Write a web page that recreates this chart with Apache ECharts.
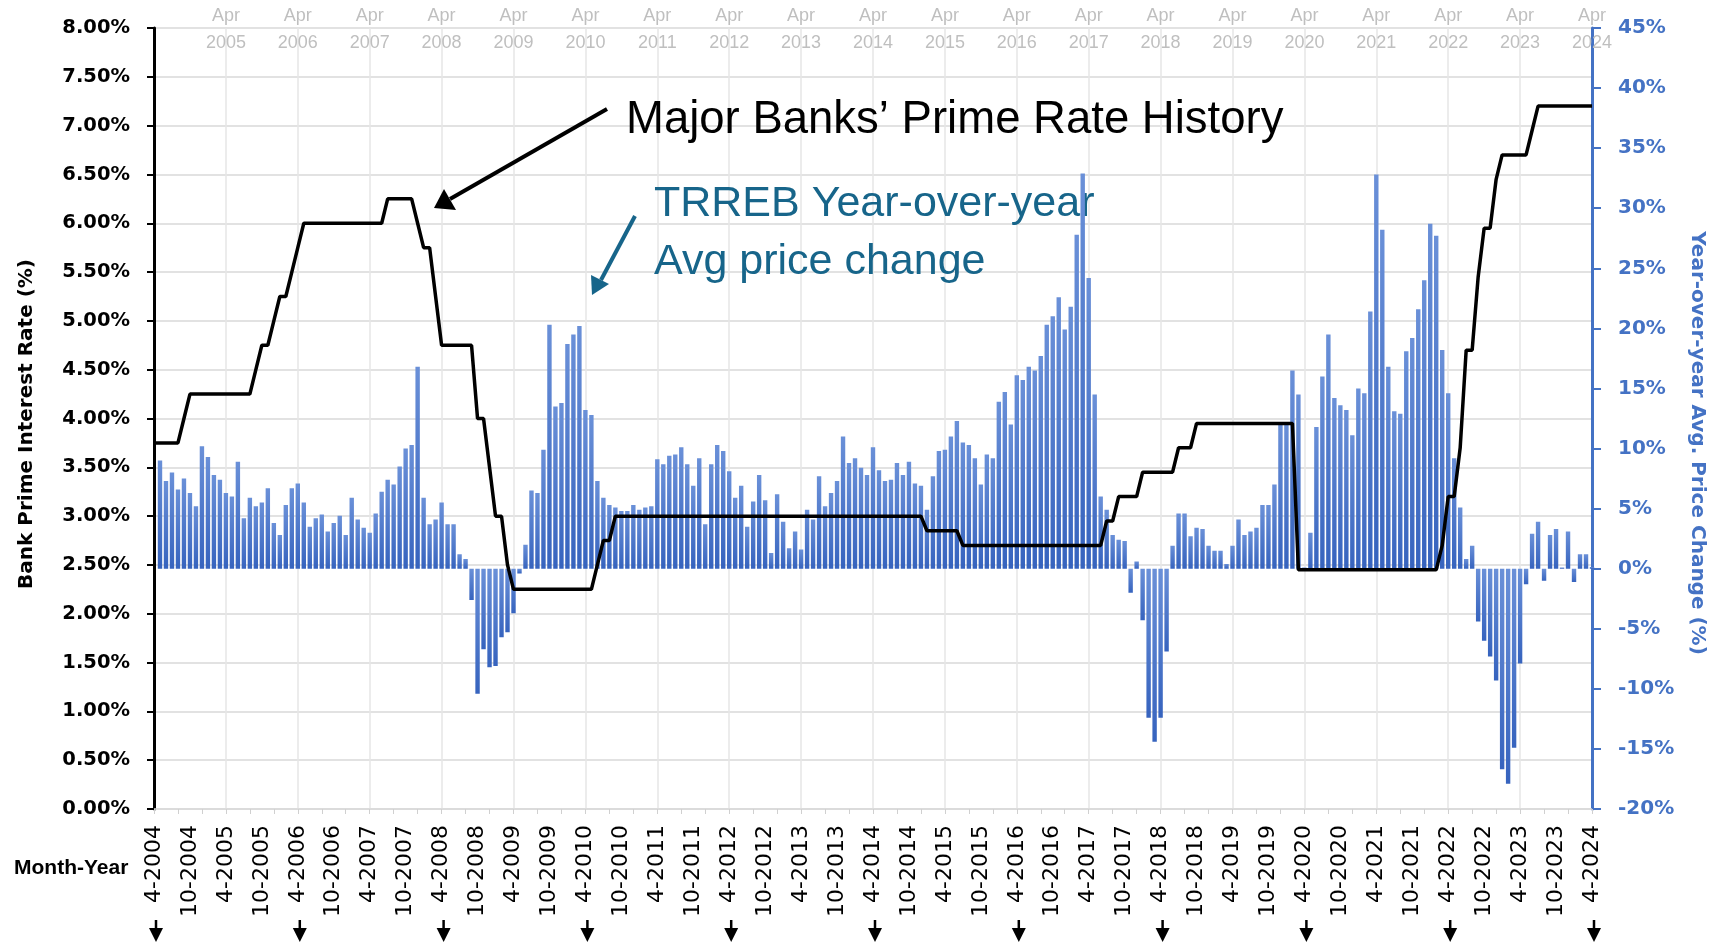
<!DOCTYPE html>
<html>
<head>
<meta charset="utf-8">
<title>Prime rate vs TRREB YoY price change</title>
<script src="https://cdn.jsdelivr.net/npm/echarts@6/dist/echarts.min.js"></script>
<style>
  html, body { margin: 0; padding: 0; background: #fff; }
  #main { width: 1714px; height: 943px; }
</style>
</head>
<body>
<div id="main"></div>
<script>
// month labels, 4-2004 .. 4-2024
let months = [];
for (let y = 2004, m = 4; y < 2024 || (y == 2024 && m <= 4);) {
  months.push(m + '-' + y);
  m++;
  if (m > 12) { m = 1; y++; }
}

// major banks' prime rate (%), month end
let primeRate = [
  3.75,3.75,3.75,3.75,3.75,4.00,4.25,4.25,4.25,                 // 2004 apr-dec
  4.25,4.25,4.25,4.25,4.25,4.25,4.25,4.25,4.50,4.75,4.75,5.00,  // 2005
  5.25,5.25,5.50,5.75,6.00,6.00,6.00,6.00,6.00,6.00,6.00,6.00,  // 2006
  6.00,6.00,6.00,6.00,6.00,6.00,6.25,6.25,6.25,6.25,6.25,6.00,  // 2007
  5.75,5.75,5.25,4.75,4.75,4.75,4.75,4.75,4.75,4.00,4.00,3.50,  // 2008
  3.00,3.00,2.50,2.25,2.25,2.25,2.25,2.25,2.25,2.25,2.25,2.25,  // 2009
  2.25,2.25,2.25,2.25,2.25,2.50,2.75,2.75,3.00,3.00,3.00,3.00,  // 2010
  3.00,3.00,3.00,3.00,3.00,3.00,3.00,3.00,3.00,3.00,3.00,3.00,  // 2011
  3.00,3.00,3.00,3.00,3.00,3.00,3.00,3.00,3.00,3.00,3.00,3.00,  // 2012
  3.00,3.00,3.00,3.00,3.00,3.00,3.00,3.00,3.00,3.00,3.00,3.00,  // 2013
  3.00,3.00,3.00,3.00,3.00,3.00,3.00,3.00,3.00,3.00,3.00,3.00,  // 2014
  2.85,2.85,2.85,2.85,2.85,2.85,2.70,2.70,2.70,2.70,2.70,2.70,  // 2015
  2.70,2.70,2.70,2.70,2.70,2.70,2.70,2.70,2.70,2.70,2.70,2.70,  // 2016
  2.70,2.70,2.70,2.70,2.70,2.70,2.95,2.95,3.20,3.20,3.20,3.20,  // 2017
  3.45,3.45,3.45,3.45,3.45,3.45,3.70,3.70,3.70,3.95,3.95,3.95,  // 2018
  3.95,3.95,3.95,3.95,3.95,3.95,3.95,3.95,3.95,3.95,3.95,3.95,  // 2019
  3.95,3.95,2.45,2.45,2.45,2.45,2.45,2.45,2.45,2.45,2.45,2.45,  // 2020
  2.45,2.45,2.45,2.45,2.45,2.45,2.45,2.45,2.45,2.45,2.45,2.45,  // 2021
  2.45,2.45,2.70,3.20,3.20,3.70,4.70,4.70,5.45,5.95,5.95,6.45,  // 2022
  6.70,6.70,6.70,6.70,6.70,6.95,7.20,7.20,7.20,7.20,7.20,7.20,  // 2023
  7.20,7.20,7.20,7.20                                           // 2024 jan-apr
];

// TRREB year-over-year avg price change (%)
let yoyChange = [
  null,9.0,7.3,8.0,6.6,7.5,6.3,5.2,10.2,                        // 2004 apr-dec
  9.3,7.8,7.4,6.3,6.0,8.9,4.2,5.9,5.2,5.5,6.7,3.8,              // 2005
  2.8,5.3,6.7,7.1,5.5,3.5,4.2,4.5,3.1,3.8,4.4,2.8,              // 2006
  5.9,4.1,3.4,3.0,4.6,6.4,7.4,7.0,8.5,10.0,10.3,16.8,           // 2007
  5.9,3.7,4.1,5.5,3.7,3.7,1.2,0.8,-2.6,-10.4,-6.7,-8.2,         // 2008
  -8.1,-5.7,-5.3,-3.7,-0.4,2.0,6.5,6.3,9.9,20.3,13.5,13.8,      // 2009
  18.7,19.5,20.2,13.2,12.8,7.3,5.9,5.3,5.1,4.8,4.8,5.3,         // 2010
  4.9,5.1,5.2,9.1,8.7,9.4,9.5,10.1,8.7,6.9,9.2,3.7,             // 2011
  8.7,10.3,9.8,8.1,5.9,6.9,3.5,5.6,7.8,5.7,1.3,6.2,             // 2012
  3.9,1.7,3.1,1.6,4.9,4.1,7.7,5.2,6.3,7.3,11.0,8.8,             // 2013
  9.2,8.4,7.8,10.1,8.2,7.3,7.4,8.8,7.8,8.9,7.1,6.9,             // 2014
  4.9,7.7,9.8,9.9,11.0,12.3,10.5,10.3,9.2,7.0,9.5,9.2,          // 2015
  13.9,14.7,12.0,16.1,15.7,16.8,16.5,17.7,20.3,21.0,22.6,19.9,  // 2016
  21.8,27.8,32.9,24.2,14.5,6.0,4.9,2.8,2.4,2.3,-2.0,0.6,        // 2017
  -4.3,-12.4,-14.4,-12.4,-6.9,1.9,4.6,4.6,2.7,3.4,3.3,1.9,      // 2018
  1.5,1.5,0.4,1.9,4.1,2.8,3.1,3.4,5.3,5.3,7.0,12.0,             // 2019
  12.0,16.5,14.5,0.1,3.0,11.8,16.0,19.5,14.2,13.6,13.2,11.1,    // 2020
  15.0,14.6,21.4,32.8,28.2,16.8,13.1,12.9,18.1,19.2,21.6,24.0,  // 2021
  28.7,27.7,18.2,14.6,9.2,5.1,0.8,1.9,-4.4,-6.0,-7.3,-9.3,      // 2022
  -16.7,-17.9,-14.9,-7.9,-1.3,2.9,3.9,-1.0,2.8,3.3,0.1,3.1,     // 2023
  -1.1,1.2,1.2,0.15                                             // 2024 jan-apr
];

let leftTicks = { min: 0, max: 8, step: 0.5 };
let rightTicks = { min: -20, max: 45, step: 5 };

let blue = '#4472C4';
let teal = '#17658a';

let myChart = echarts.init(document.getElementById('main'));

let option = {
  backgroundColor: '#fff',
  animation: false,
  grid: { left: 154, right: 122, top: 28, bottom: 134, outerBoundsMode: 'none' },
  xAxis: [
    {
      type: 'category',
      data: months,
      boundaryGap: false,
      axisLine: { show: true, lineStyle: { color: '#d9d9d9', width: 1.5 } },
      axisTick: { show: true, interval: 3, length: 5, lineStyle: { color: '#d0d0d0' } },
      axisLabel: {
        interval: 5,
        rotate: 90,
        margin: 16,
        color: '#000',
        fontSize: 22,
        fontFamily: 'DejaVu Sans'
      },
      splitLine: { show: false }
    },
    {
      type: 'category',
      position: 'top',
      data: months,
      boundaryGap: false,
      axisLine: { show: false },
      axisTick: { show: false },
      axisLabel: {
        interval: function (i) { return i % 12 === 0 && i > 0; },
        formatter: function (v) { return 'Apr\n' + v.split('-')[1]; },
        color: '#bfbfbf',
        fontSize: 18,
        lineHeight: 27,
        fontFamily: 'Liberation Sans',
        verticalAlign: 'middle',
        margin: -2
      },
      splitLine: {
        show: true,
        interval: function (i) { return i % 12 === 0; },
        lineStyle: { color: '#e6e6e6', width: 1.5 }
      }
    }
  ],
  yAxis: [
    {
      type: 'value',
      min: leftTicks.min,
      max: leftTicks.max,
      interval: leftTicks.step,
      axisLine: { show: true, lineStyle: { color: '#000', width: 3 } },
      axisTick: { show: true, length: 7, lineStyle: { color: '#000', width: 2 } },
      axisLabel: {
        formatter: function (v) { return v.toFixed(2) + '%'; },
        color: '#000',
        fontSize: 19.5,
        fontWeight: 'bold',
        fontFamily: 'DejaVu Sans',
        margin: 24
      },
      splitLine: { show: true, lineStyle: { color: '#d9d9d9', width: 1.5 } }
    },
    {
      type: 'value',
      position: 'right',
      min: rightTicks.min,
      max: rightTicks.max,
      interval: rightTicks.step,
      axisLine: { show: true, lineStyle: { color: blue, width: 3 } },
      axisTick: { show: true, length: 9, lineStyle: { color: blue, width: 2 } },
      axisLabel: {
        formatter: function (v) { return v + '%'; },
        color: blue,
        fontSize: 20,
        fontWeight: 'bold',
        fontFamily: 'DejaVu Sans',
        margin: 26
      },
      splitLine: { show: false }
    }
  ],
  series: [
    {
      name: 'TRREB YoY',
      type: 'bar',
      xAxisIndex: 0,
      yAxisIndex: 1,
      data: yoyChange,
      barWidth: 4.4,
      itemStyle: {
        color: new echarts.graphic.LinearGradient(0, 0, 0, 1, [
          { offset: 0, color: '#6a90d8' },
          { offset: 1, color: '#3663be' }
        ])
      },
      z: 2
    },
    {
      name: 'Prime',
      type: 'line',
      xAxisIndex: 0,
      yAxisIndex: 0,
      data: primeRate,
      showSymbol: false,
      symbol: 'none',
      lineStyle: { color: '#000', width: 3.5 },
      z: 3
    }
  ]
};
myChart.setOption(option);

// axis titles, annotations, arrows under every other april label
let graphics = [
  {
    type: 'text', x: 27, y: 424, rotation: Math.PI / 2,
    style: { text: 'Bank Prime Interest Rate (%)', fontSize: 20, fontWeight: 'bold', fontFamily: 'DejaVu Sans', fill: '#000', align: 'center', verticalAlign: 'middle' }
  },
  {
    type: 'text', x: 1697, y: 443, rotation: -Math.PI / 2,
    style: { text: 'Year-over-year Avg. Price Change (%)', fontSize: 20, fontWeight: 'bold', fontFamily: 'DejaVu Sans', fill: blue, align: 'center', verticalAlign: 'middle' }
  },
  {
    type: 'text', left: 14, top: 858,
    style: { text: 'Month-Year', fontSize: 21, fontWeight: 'bold', fontFamily: 'Liberation Sans', fill: '#000' }
  },
  {
    type: 'text', left: 626, top: 97,
    style: { text: 'Major Banks\u2019 Prime Rate History', fontSize: 45.5, fontFamily: 'Liberation Sans', fill: '#000' }
  },
  {
    type: 'text', left: 654, top: 175,
    style: { text: 'TRREB Year-over-year\nAvg price change', fontSize: 43, lineHeight: 58, fontFamily: 'Liberation Sans', fill: teal }
  },
  { type: 'line', shape: { x1: 607, y1: 109, x2: 450, y2: 199 }, style: { stroke: '#000', lineWidth: 4 } },
  { type: 'polygon', shape: { points: [[434, 208], [444, 189], [456, 210]] }, style: { fill: '#000' } },
  { type: 'line', shape: { x1: 635, y1: 216, x2: 601, y2: 280 }, style: { stroke: teal, lineWidth: 4 } },
  { type: 'polygon', shape: { points: [[592, 295], [591, 275], [609, 284]] }, style: { fill: teal } }
];
for (let i = 0; i < months.length; i += 24) {
  let x = myChart.convertToPixel({ xAxisIndex: 0 }, i) + 2;
  graphics.push({ type: 'line', shape: { x1: x, y1: 920, x2: x, y2: 930 }, style: { stroke: '#000', lineWidth: 2.5 } });
  graphics.push({ type: 'polygon', shape: { points: [[x - 7, 928], [x + 7, 928], [x, 942]] }, style: { fill: '#000' } });
}
myChart.setOption({ graphic: graphics });
</script>
</body>
</html>
